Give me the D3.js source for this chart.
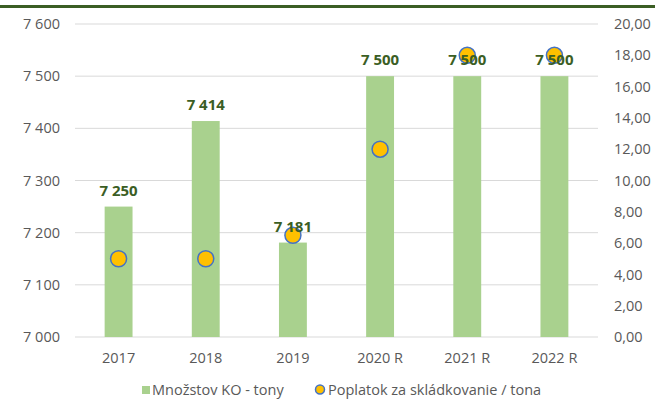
<!DOCTYPE html>
<html>
<head>
<meta charset="utf-8">
<script src="https://cdn.jsdelivr.net/npm/d3@7"></script>
<style>
  body { margin: 0; background: #fff; }
  text { font-family: "Open Sans", "Liberation Sans", sans-serif; }
</style>
</head>
<body>
<div id="chart"></div>
<script>
// data
const years = ["2017", "2018", "2019", "2020 R", "2021 R", "2022 R"];
const tonnes = [7250, 7414, 7181, 7500, 7500, 7500];
const fee = [5, 5, 6.5, 12, 18, 18];
const leftTicks = [7000, 7100, 7200, 7300, 7400, 7500, 7600];
const rightTicks = [0, 2, 4, 6, 8, 10, 12, 14, 16, 18, 20];
const seriesNames = ["Množstov KO - tony", "Poplatok za skládkovanie / tona"];

const width = 655, height = 400;
const margin = { top: 24, right: 57, bottom: 63, left: 75 };
const fs = "14.5px";

const svg = d3.select("#chart").append("svg")
  .attr("width", width)
  .attr("height", height);

// top border
svg.append("rect")
  .attr("x", 0).attr("y", 5)
  .attr("width", width).attr("height", 3)
  .attr("fill", "#3b5e24");

const x = d3.scaleBand()
  .domain(years)
  .range([margin.left, width - margin.right])
  .paddingInner(0.68)
  .paddingOuter(0.34);

const yL = d3.scaleLinear().domain([7000, 7600]).range([height - margin.bottom, margin.top]);
const yR = d3.scaleLinear().domain([0, 20]).range([height - margin.bottom, margin.top]);

const fmtL = d => d3.format(",")(d).replace(/,/g, " ");
const fmtR = d => d3.format(".2f")(d).replace(".", ",");

// gridlines
svg.append("g")
  .selectAll("line")
  .data(leftTicks)
  .enter().append("line")
  .attr("x1", margin.left)
  .attr("x2", width - margin.right)
  .attr("y1", d => yL(d))
  .attr("y2", d => yL(d))
  .attr("stroke", "#d9d9d9")
  .attr("stroke-width", 1);

// left axis
const axL = svg.append("g")
  .attr("transform", `translate(${margin.left - 12},0)`)
  .call(d3.axisLeft(yL).tickValues(leftTicks).tickFormat(fmtL).tickSize(0));
axL.select(".domain").remove();
axL.selectAll("text").attr("fill", "#595959").style("font-size", fs);

// right axis
const axR = svg.append("g")
  .attr("transform", `translate(${width - margin.right + 13},0)`)
  .call(d3.axisRight(yR).tickValues(rightTicks).tickFormat(fmtR).tickSize(0));
axR.select(".domain").remove();
axR.selectAll("text").attr("fill", "#595959").style("font-size", fs);

// bottom axis
const axB = svg.append("g")
  .attr("transform", `translate(0,${height - margin.bottom + 13})`)
  .call(d3.axisBottom(x).tickSize(0));
axB.select(".domain").remove();
axB.selectAll("text").attr("fill", "#595959").style("font-size", fs);

// bars
svg.append("g")
  .selectAll("rect")
  .data(tonnes)
  .enter().append("rect")
  .attr("x", (d, i) => x(years[i]))
  .attr("y", d => yL(d))
  .attr("width", x.bandwidth())
  .attr("height", d => yL(7000) - yL(d))
  .attr("fill", "#a9d18e");

// fee points
svg.append("g")
  .selectAll("circle")
  .data(fee)
  .enter().append("circle")
  .attr("cx", (d, i) => x(years[i]) + x.bandwidth() / 2)
  .attr("cy", d => yR(d))
  .attr("r", 8)
  .attr("fill", "#ffc000")
  .attr("stroke", "#4472c4")
  .attr("stroke-width", 1.5);

// bar labels (drawn on top of points)
svg.append("g")
  .selectAll("text")
  .data(tonnes)
  .enter().append("text")
  .attr("x", (d, i) => x(years[i]) + x.bandwidth() / 2)
  .attr("y", d => yL(d) - 11)
  .attr("text-anchor", "middle")
  .attr("fill", "#3b5e24")
  .style("font-size", "15px")
  .style("font-weight", "bold")
  .text(fmtL);

// legend
const leg = svg.append("g").attr("transform", `translate(0, ${height - 5})`);
leg.append("rect")
  .attr("x", 142).attr("y", -9)
  .attr("width", 8).attr("height", 8)
  .attr("fill", "#a9d18e");
leg.append("text")
  .attr("x", 152).attr("y", 0)
  .attr("fill", "#595959")
  .style("font-size", fs)
  .text(seriesNames[0]);
leg.append("circle")
  .attr("cx", 320).attr("cy", -5.5)
  .attr("r", 4.5)
  .attr("fill", "#ffc000")
  .attr("stroke", "#4472c4")
  .attr("stroke-width", 1.5);
leg.append("text")
  .attr("x", 328).attr("y", 0)
  .attr("fill", "#595959")
  .style("font-size", fs)
  .text(seriesNames[1]);
</script>
</body>
</html>
